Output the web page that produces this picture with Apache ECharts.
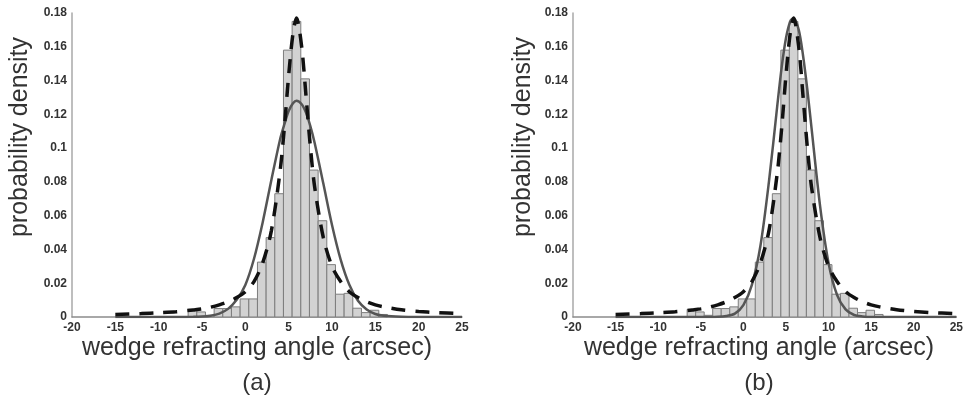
<!DOCTYPE html>
<html>
<head>
<meta charset="utf-8">
<script src="https://cdn.jsdelivr.net/npm/echarts@6/dist/echarts.min.js"></script>
<style>
  html, body { margin: 0; padding: 0; background: #fff; }
  #chart { width: 966px; height: 401px; }
</style>
</head>
<body>
<div id="chart"></div>
<script>
// histogram (same data in both panels), bin width 1 arcsec
const binCenters = [-6.1, -5.1, -4.1, -3.1, -2.1, -1.1, -0.1, 0.9, 1.9, 2.9, 3.9, 4.9, 5.9, 6.9, 7.9, 8.9, 9.9, 10.9, 11.9, 12.9, 13.9, 14.9, 15.9]
const binDensity = [0.0045, 0.003, 0.001, 0.005, 0.005, 0.006, 0.0107, 0.0107, 0.0325, 0.047, 0.073, 0.158, 0.175, 0.141, 0.087, 0.057, 0.031, 0.0135, 0.014, 0.0052, 0.0026, 0.004, 0.0015]
const binWidth = 1

// fitted curves
const curveX = [-15, -12, -10, -8, -6, -5, -4, -3, -2, -1, 0, 1, 2, 3, 4, 4.5, 5, 5.5, 5.9, 6.5, 7, 7.5, 8, 9, 10, 11, 12, 13, 14, 15, 16, 18, 20, 22, 25]
const dashedFit = [0.0015, 0.002, 0.0025, 0.0031, 0.0042, 0.0048, 0.0058, 0.0072, 0.009, 0.0115, 0.015, 0.021, 0.032, 0.051, 0.086, 0.112, 0.143, 0.168, 0.177, 0.160, 0.131, 0.101, 0.077, 0.047, 0.030, 0.021, 0.015, 0.0115, 0.009, 0.0072, 0.006, 0.0043, 0.0033, 0.0026, 0.002]
const solidFitA = [0, 0, 0, 0, 0.0001, 0.0003, 0.0008, 0.002, 0.0048, 0.0102, 0.019, 0.0345, 0.056, 0.081, 0.105, 0.114, 0.122, 0.1265, 0.128, 0.126, 0.121, 0.113, 0.103, 0.079, 0.0545, 0.034, 0.0191, 0.0096, 0.0044, 0.0018, 0.0007, 0.0001, 0, 0, 0]
const solidFitB = [0, 0, 0, 0, 0, 0, 0, 0.0001, 0.0006, 0.002, 0.007, 0.019, 0.042, 0.08, 0.126, 0.148, 0.165, 0.175, 0.177, 0.170, 0.155, 0.135, 0.112, 0.066, 0.032, 0.013, 0.0045, 0.0012, 0.0003, 0, 0, 0, 0, 0, 0]

const xMin = -20, xMax = 25, xStep = 5
const yMin = 0, yMax = 0.18, yStep = 0.02

const FONT = "'Liberation Sans', Arial, sans-serif"
const panels = [
  { left: 72, solid: solidFitA, tag: '(a)', cx: 257, ylabX: 20 },
  { left: 573, solid: solidFitB, tag: '(b)', cx: 759, ylabX: 523 }
]

const pairs = ys => curveX.map((x, i) => [x, ys[i]])

function renderBin (params, api) {
  const c = api.value(0)
  const top = api.coord([c - binWidth / 2, api.value(1)])
  const bot = api.coord([c + binWidth / 2, 0])
  return {
    type: 'rect',
    shape: { x: top[0], y: top[1], width: bot[0] - top[0], height: bot[1] - top[1] },
    style: { fill: '#d2d2d2', stroke: '#7d7d7d', lineWidth: 1 }
  }
}

const chart = echarts.init(document.getElementById('chart'), null, { renderer: 'canvas' })

const option = {
  backgroundColor: '#fff',
  animation: false,
  grid: panels.map(p => ({ left: p.left, top: 13, width: 390, height: 304 })),
  xAxis: panels.map((p, i) => ({
    type: 'value', gridIndex: i, min: xMin, max: xMax, interval: xStep,
    axisLine: { onZero: false, lineStyle: { color: '#8c8c8c', width: 1.5 } },
    axisTick: { show: false },
    splitLine: { show: false },
    axisLabel: { color: '#333', fontSize: 12, fontWeight: 'bold', fontFamily: FONT, margin: 5 }
  })),
  yAxis: panels.map((p, i) => ({
    type: 'value', gridIndex: i, min: yMin, max: yMax, interval: yStep,
    axisLine: { show: true, onZero: false, lineStyle: { color: '#a8a8a8', width: 1.5 } },
    axisTick: { show: false },
    splitLine: { show: false },
    axisLabel: { color: '#333', fontSize: 12, fontWeight: 'bold', fontFamily: FONT, margin: 5 }
  })),
  series: [],
  graphic: []
}

panels.forEach((p, i) => {
  option.series.push({
    type: 'custom', xAxisIndex: i, yAxisIndex: i,
    renderItem: renderBin,
    data: binCenters.map((c, k) => [c, binDensity[k]]),
    encode: { x: 0, y: 1 }
  })
  option.series.push({
    type: 'line', xAxisIndex: i, yAxisIndex: i,
    data: pairs(p.solid), smooth: 0.3, showSymbol: false,
    lineStyle: { color: '#555', width: 2.5 }
  })
  option.series.push({
    type: 'line', xAxisIndex: i, yAxisIndex: i,
    data: pairs(dashedFit), smooth: 0.3, showSymbol: false,
    lineStyle: { color: '#111', width: 3.5, type: [14, 10] }
  })
  option.graphic.push(
    {
      type: 'text', x: p.ylabX, y: 137, rotation: Math.PI / 2,
      style: { text: 'probability density', font: '25px ' + FONT, fill: '#333', align: 'center', verticalAlign: 'middle' }
    },
    {
      type: 'text', x: p.cx, y: 348,
      style: { text: 'wedge refracting angle (arcsec)', font: '25px ' + FONT, fill: '#333', align: 'center', verticalAlign: 'middle' }
    },
    {
      type: 'text', x: p.cx, y: 383,
      style: { text: p.tag, font: '24px ' + FONT, fill: '#333', align: 'center', verticalAlign: 'middle' }
    }
  )
})

chart.setOption(option)
</script>
</body>
</html>
